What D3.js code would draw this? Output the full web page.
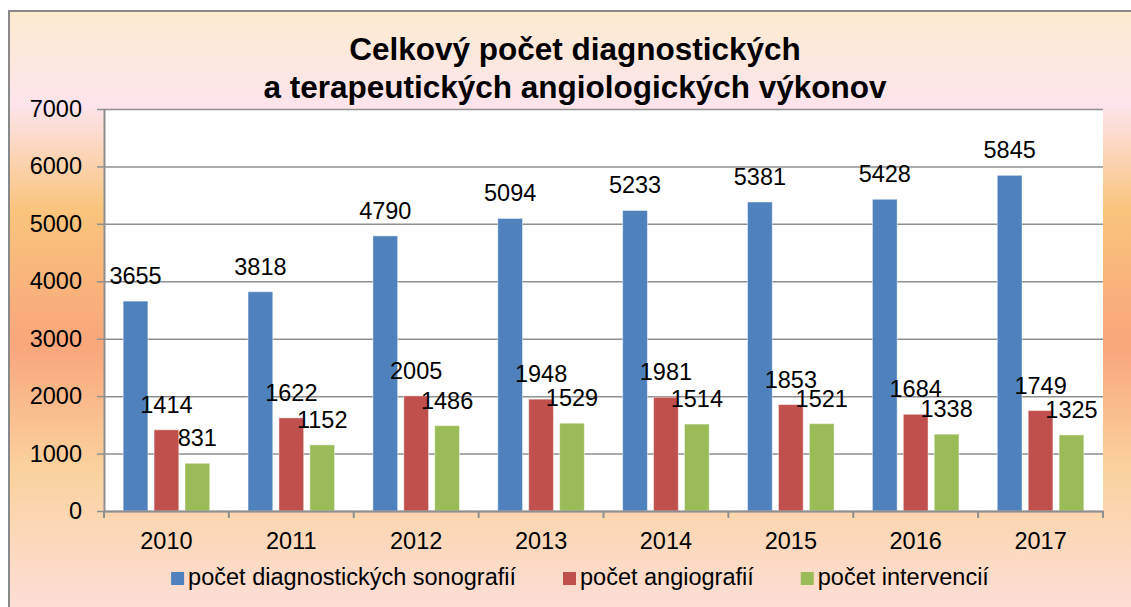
<!DOCTYPE html>
<html>
<head>
<meta charset="utf-8">
<title>Celkový počet výkonov</title>
<script src="https://cdnjs.cloudflare.com/ajax/libs/d3/7.8.5/d3.min.js"></script>
<style>
  body { margin: 0; background: #fff; }
  text { font-family: "Liberation Sans", Arial, sans-serif; fill: #000; }
</style>
</head>
<body>
<svg id="chart" width="1131" height="607"></svg>
<script>
// data
const years = ['2010', '2011', '2012', '2013', '2014', '2015', '2016', '2017'];
const sonografie = [3655, 3818, 4790, 5094, 5233, 5381, 5428, 5845];
const angiografie = [1414, 1622, 2005, 1948, 1981, 1853, 1684, 1749];
const intervencie = [831, 1152, 1486, 1529, 1514, 1521, 1338, 1325];
const seriesNames = ['počet diagnostických sonografií', 'počet angiografií', 'počet intervencií'];
const seriesColors = ['#4F81BD', '#C0504D', '#9BBB59'];
const yTicks = [0, 1000, 2000, 3000, 4000, 5000, 6000, 7000];

const allSeries = [sonografie, angiografie, intervencie];

var svg = d3.select('#chart');
var plotLeft = 104, plotRight = 1103, plotTop = 109, plotBottom = 511;
var fs = '23.5px';

// background with the gradient
var defs = svg.append('defs');
var grad = defs.append('linearGradient').attr('id', 'bg')
    .attr('gradientUnits', 'userSpaceOnUse')
    .attr('x1', 0).attr('y1', 11).attr('x2', 0).attr('y2', 607);
[[11, '#FCEBCF'], [105, '#FDE4EC'], [210, '#F9C47C'], [345, '#F9A67B'], [470, '#FAD29E'], [607, '#FDDED6']]
    .forEach(function (s) {
        grad.append('stop').attr('offset', (s[0] - 11) / 596).attr('stop-color', s[1]);
    });

svg.append('rect').attr('x', 9).attr('y', 11).attr('width', 1140).attr('height', 620)
    .attr('fill', 'url(#bg)').attr('stroke', '#898989').attr('stroke-width', 2);

svg.append('rect').attr('x', plotLeft).attr('y', plotTop)
    .attr('width', plotRight - plotLeft).attr('height', plotBottom - plotTop)
    .attr('fill', '#fff');

var x0 = d3.scaleBand().domain(years).range([plotLeft, plotRight]);
var x1 = d3.scaleBand().domain(d3.range(allSeries.length)).range([0, x0.bandwidth()])
    .paddingInner(0.2).paddingOuter(0.62);
var y = d3.scaleLinear().domain([0, 7000]).range([plotBottom, plotTop]);

// gridlines
svg.append('g').attr('transform', 'translate(' + plotLeft + ',0)')
    .call(d3.axisLeft(y).tickValues(yTicks).tickSize(-(plotRight - plotLeft)).tickFormat(''))
    .call(function (g) {
        g.select('.domain').remove();
        g.selectAll('line').attr('stroke', '#8f8f8f').attr('stroke-width', 1.5);
    });

// bars
allSeries.forEach(function (vals, si) {
    svg.append('g').selectAll('rect').data(vals).enter().append('rect')
        .attr('x', function (d, i) { return x0(years[i]) + x1(si); })
        .attr('y', function (d) { return y(d); })
        .attr('width', x1.bandwidth())
        .attr('height', function (d) { return plotBottom - y(d); })
        .attr('fill', seriesColors[si])
        .attr('stroke', 'rgba(255,255,255,0.45)').attr('stroke-width', 1);
});

// y axis
svg.append('g').attr('transform', 'translate(' + plotLeft + ',0)')
    .call(d3.axisLeft(y).tickValues(yTicks).tickFormat(d3.format('d'))
        .tickSize(7).tickPadding(15).tickSizeOuter(0))
    .call(function (g) {
        g.select('.domain').attr('stroke', '#8f8f8f').attr('stroke-width', 2);
        g.selectAll('line').attr('stroke', '#8f8f8f').attr('stroke-width', 1.5);
        g.selectAll('text').style('font-size', fs).attr('fill', '#000');
    });

// x axis
svg.append('g').attr('transform', 'translate(0,' + plotBottom + ')')
    .call(d3.axisBottom(x0).tickSize(0).tickPadding(21).tickSizeOuter(0))
    .call(function (g) {
        g.select('.domain').attr('stroke', '#8f8f8f').attr('stroke-width', 2);
        g.selectAll('text').style('font-size', fs).attr('fill', '#000');
    });
svg.append('g').selectAll('line').data(years.concat(['end'])).enter().append('line')
    .attr('x1', function (d) { return d === 'end' ? plotRight : x0(d); })
    .attr('x2', function (d) { return d === 'end' ? plotRight : x0(d); })
    .attr('y1', plotBottom).attr('y2', plotBottom + 7)
    .attr('stroke', '#8f8f8f').attr('stroke-width', 2);

// data labels
allSeries.forEach(function (vals, si) {
    svg.append('g').selectAll('text').data(vals).enter().append('text')
        .attr('x', function (d, i) { return x0(years[i]) + x1(si) + x1.bandwidth() / 2; })
        .attr('y', function (d) { return y(d) - 17; })
        .attr('text-anchor', 'middle')
        .style('font-size', fs)
        .text(function (d) { return d; });
});

// title
var title = svg.append('text').attr('x', 575).attr('y', 60)
    .attr('text-anchor', 'middle').style('font-size', '31.5px').style('font-weight', 'bold');
title.append('tspan').attr('x', 575).text('Celkový počet diagnostických');
title.append('tspan').attr('x', 575).attr('dy', 38).text('a terapeutických angiologických výkonov');

// legend
var legend = svg.append('g');
var lx = 0, gap = 47;
seriesNames.forEach(function (name, i) {
    var item = legend.append('g').attr('transform', 'translate(' + lx + ',0)');
    item.append('rect').attr('x', 0).attr('y', -13).attr('width', 13).attr('height', 13)
        .attr('fill', seriesColors[i]);
    var t = item.append('text').attr('x', 17).attr('y', 0).style('font-size', fs).text(name);
    lx += 17 + t.node().getComputedTextLength() + gap;
});
var lw = lx - gap;
legend.attr('transform', 'translate(' + (580 - lw / 2) + ',585)');
</script>
</body>
</html>
